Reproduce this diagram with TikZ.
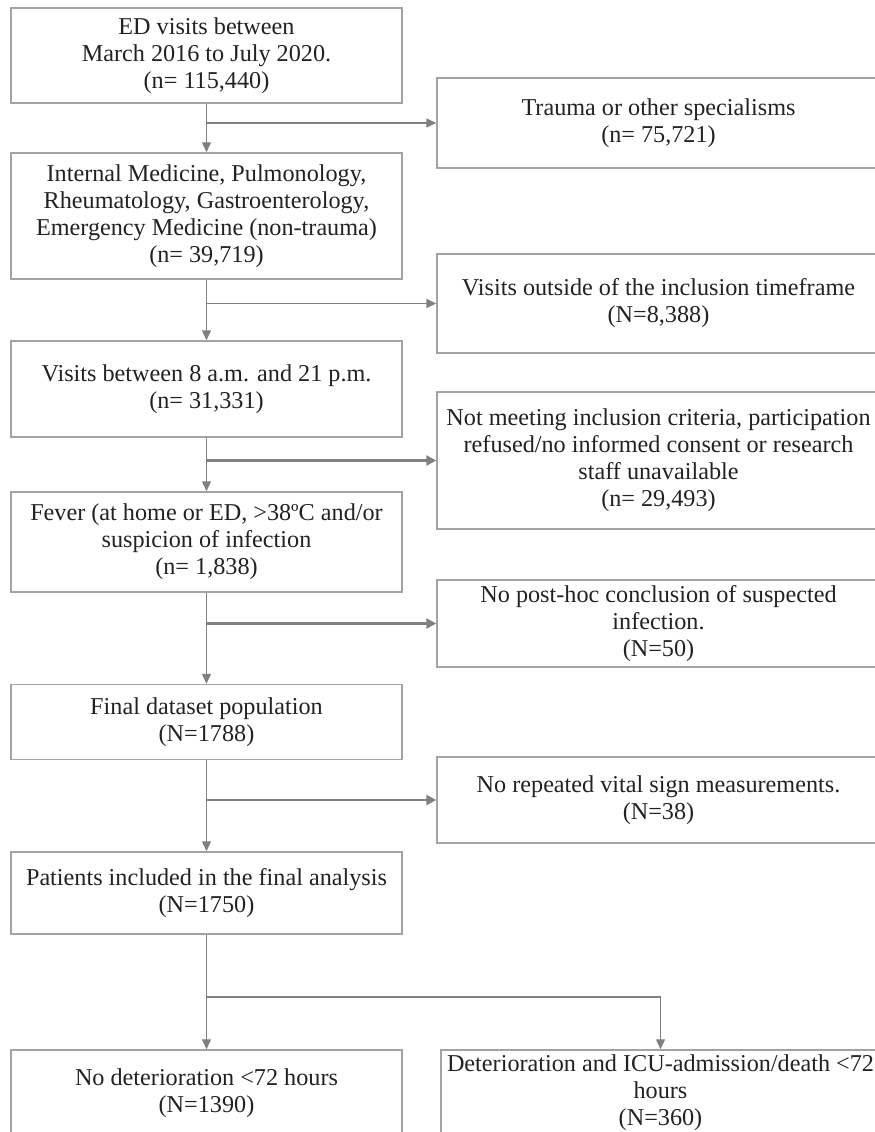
\documentclass[tikz,border=0pt]{standalone}
\usepackage{fontspec}
\setmainfont{Liberation Serif}
\usetikzlibrary{arrows.meta}
\definecolor{boxgray}{HTML}{A3A3A3}
\definecolor{linegray}{HTML}{808080}
\definecolor{txt}{HTML}{222222}
\tikzset{
  box/.style={draw=boxgray, line width=1.5pt, inner sep=0pt, align=center,
    text=txt, font=\fontsize{24.2}{27}\selectfont, minimum width=391pt},
  rbox/.style={box, minimum width=443pt},
  conn/.style={draw=linegray, line width=1.4pt, -{Triangle[length=10pt,width=9pt]}},
  thick conn/.style={conn, line width=2.6pt, -{Triangle[length=10pt,width=10pt]}},
  plain line/.style={draw=linegray, line width=1.4pt}
}
\begin{document}
\begin{tikzpicture}[x=1pt,y=-1pt]
\useasboundingbox (0,0) rectangle (875,1132);
\clip (0,0) rectangle (875,1132);
\fill[white] (0,0) rectangle (875,1132);

\node[box, minimum height=95pt]  (b1) at (206.5,55.5) {ED visits between\\March 2016 to July 2020.\\(n= 115,440)};
\node[box, minimum height=126pt] (b2) at (206.5,216) {Internal Medicine, Pulmonology,\\Rheumatology, Gastroenterology,\\Emergency Medicine (non-trauma)\\(n= 39,719)};
\node[box, minimum height=96pt]  (b3) at (206.5,389) {Visits between 8 a.m. and 21 p.m.\\(n= 31,331)};
\node[box, minimum height=100pt] (b4) at (206.5,542) {Fever (at home or ED, >38ºC and/or\\suspicion of infection\\(n= 1,838)};
\node[box, minimum height=75pt]  (b5) at (206.5,722) {Final dataset population\\(N=1788)};
\node[box, minimum height=82pt]  (b6) at (206.5,893) {Patients included in the final analysis\\(N=1750)};
\node[box, minimum height=86pt]  (b7) at (206.5,1093) {No deterioration <72 hours\\(N=1390)};

\node[rbox, minimum height=90pt]  (r1) at (658.5,123) {Trauma or other specialisms\\(n= 75,721)};
\node[rbox, minimum height=99pt]  (r2) at (658.5,303.5) {Visits outside of the inclusion timeframe\\(N=8,388)};
\node[rbox, minimum height=137pt] (r3) at (658.5,460.5) {Not meeting inclusion criteria, participation\\refused/no informed consent or research\\staff unavailable\\(n= 29,493)};
\node[rbox, minimum height=87pt]  (r4) at (658.5,623.5) {No post-hoc conclusion of suspected\\infection.\\(N=50)};
\node[rbox, minimum height=86pt]  (r5) at (658.5,800) {No repeated vital sign measurements.\\(N=38)};
\node[box, minimum width=439pt, minimum height=86pt] (r7) at (660.5,1093) {Deterioration and ICU-admission/death <72\\hours\\(N=360)};

% main flow
\draw[conn] (b1.south) -- (b2.north);
\draw[conn] (b2.south) -- (b3.north);
\draw[conn] (b3.south) -- (b4.north);
\draw[conn] (b4.south) -- (b5.north);
\draw[conn] (b5.south) -- (b6.north);
\draw[conn] (b6.south) -- (b7.north);

% exclusions
\draw[conn] (b1.south |- r1.west) -- (r1.west);
\draw[conn] (b2.south |- r2.west) -- (r2.west);
\draw[thick conn] (b3.south |- r3.west) -- (r3.west);
\draw[thick conn] (b4.south |- r4.west) -- (r4.west);
\draw[thick conn] (b5.south |- r5.west) -- (r5.west);

% final split
\coordinate (split) at (206.5,997);
\draw[conn] (split) -| (r7.north);
\end{tikzpicture}
\end{document}
